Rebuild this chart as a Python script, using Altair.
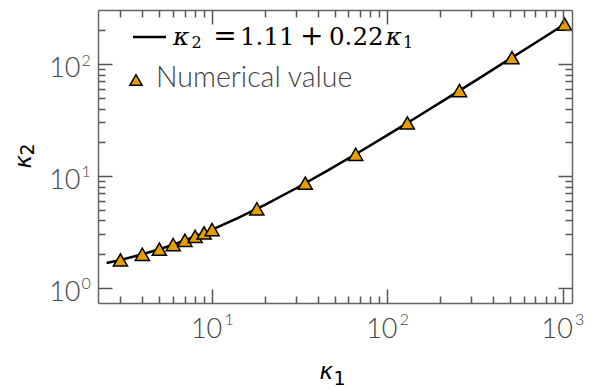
import altair as alt
import pandas as pd

# ---------------- data ----------------
k1_values = [3, 4, 5, 6, 7, 8, 9, 10, 18, 34, 66, 130, 258, 514, 1026]
k2_values = [1.77, 1.99, 2.21, 2.43, 2.65, 2.87, 3.09, 3.31, 5.07, 8.59,
             15.6, 29.7, 57.9, 114, 227]

# fitted relation shown in the legend: k2 = 1.11 + 0.22 k1
fit_intercept = 1.11
fit_slope = 0.22
fit_k1 = [2.5, 3, 4, 5, 6, 8, 10, 14, 20, 30, 45, 70, 100, 150, 220, 330,
          500, 700, 1026]

x_major = [10, 100, 1000]
x_minor = [3, 4, 5, 6, 7, 8, 9, 20, 30, 40, 50, 60, 70, 80, 90,
           200, 300, 400, 500, 600, 700, 800, 900]
y_major = [1, 10, 100]
y_minor = [2, 3, 4, 5, 6, 7, 8, 9, 20, 30, 40, 50, 60, 70, 80, 90, 200]

# legend formula pieces: kappa_2 = 1.11 + 0.22 kappa_1
formula_parts = ["κ", "2", "=", "1.11", "+", "0.22", "κ", "1"]
points_label = "Numerical value"
title_symbol = "κ"
x_title_sub = "1"
y_title_sub = "2"

# ---------------- styling ----------------
W, H = 474, 293
AXC = "#666666"
TICKC = "#555555"
LABC = "#444444"
ORANGE = "#E69F00"
LFONT = "Lato"
TFONT = "DejaVu Sans"
MFONT = "DejaVu Serif"

pts = pd.DataFrame({"k1": k1_values, "k2": k2_values})
fit = pd.DataFrame({"k1": fit_k1,
                    "k2": [fit_intercept + fit_slope * v for v in fit_k1]})

xs = alt.Scale(type="log", domain=[2.234, 1131], nice=False)
ys = alt.Scale(type="log", domain=[0.73, 304], nice=False)

common = dict(grid=False, zindex=1, labelFlush=False, labelOverlap=False)
exp_expr = "'' + round(log(datum.value) / LN10)"


def tick_axis(orient, offset, values, size, domain=False):
    return alt.Axis(orient=orient, offset=offset, values=values, labels=False,
                    ticks=True, tickSize=size, tickColor=TICKC, tickWidth=1.5,
                    domain=domain, domainColor=AXC, domainWidth=1.5,
                    title=None, **common)


# label axes (base "10" and exponent), titles split as symbol + subscript
x_lab = alt.Axis(orient="bottom", values=x_major, labelExpr="'10'",
                 ticks=False, tickSize=0, domain=True, domainColor=AXC,
                 domainWidth=1.5, labelFont=LFONT, labelFontWeight=300,
                 labelFontSize=27, labelColor=LABC, labelBaseline="alphabetic",
                 labelPadding=34, labelOffset=-6, labelAlign="center",
                 title=title_symbol, titleFont=TFONT, titleFontSize=23,
                 titleFontStyle="italic", titleFontWeight="normal",
                 titleColor="black", titleX=221, titleY=75, titleAlign="left",
                 titleBaseline="alphabetic", **common)
x_exp = alt.Axis(orient="bottom", values=x_major, labelExpr=exp_expr,
                 ticks=False, tickSize=0, domain=False, labelFont=LFONT,
                 labelFontWeight=300, labelFontSize=16, labelColor=LABC,
                 labelBaseline="alphabetic", labelPadding=21, labelOffset=16.5,
                 labelAlign="center",
                 title=x_title_sub, titleFont=TFONT, titleFontSize=19,
                 titleFontWeight="normal", titleColor="black",
                 titleX=235, titleY=81, titleAlign="left",
                 titleBaseline="alphabetic", **common)
y_lab = alt.Axis(orient="left", values=y_major, labelExpr="'10'",
                 ticks=False, tickSize=0, domain=True, domainColor=AXC,
                 domainWidth=1.5, labelFont=LFONT, labelFontWeight=300,
                 labelFontSize=27, labelColor=LABC, labelBaseline="alphabetic",
                 labelPadding=18, labelOffset=12.5, labelAlign="right",
                 title=title_symbol, titleFont=TFONT, titleFontSize=23,
                 titleFontStyle="italic", titleFontWeight="normal",
                 titleColor="black", titleAngle=270, titleX=-68, titleY=158,
                 titleAlign="left", titleBaseline="alphabetic", **common)
y_exp = alt.Axis(orient="left", values=y_major, labelExpr=exp_expr,
                 ticks=False, tickSize=0, domain=False, labelFont=LFONT,
                 labelFontWeight=300, labelFontSize=16, labelColor=LABC,
                 labelBaseline="alphabetic", labelPadding=17, labelOffset=1,
                 labelAlign="left",
                 title=y_title_sub, titleFont=TFONT, titleFontSize=19,
                 titleFontWeight="normal", titleColor="black", titleAngle=270,
                 titleX=-64.5, titleY=145, titleAlign="left",
                 titleBaseline="alphabetic", **common)

# layer 1: fitted line
line = alt.Chart(fit).mark_line(color="black", strokeWidth=2.5).encode(
    x=alt.X("k1:Q", scale=xs, axis=x_lab),
    y=alt.Y("k2:Q", scale=ys, axis=y_lab),
)

# layer 2: numerical values
points = alt.Chart(pts).mark_point(
    shape="triangle-up", filled=True, fill=ORANGE, stroke="black",
    strokeWidth=1.5, size=200, opacity=1,
).encode(
    x=alt.X("k1:Q", scale=xs, axis=x_exp),
    y=alt.Y("k2:Q", scale=ys, axis=y_exp),
)


def carrier(xax, yax):
    return alt.Chart(pts).mark_point(opacity=0).encode(
        x=alt.X("k1:Q", scale=xs, axis=xax),
        y=alt.Y("k2:Q", scale=ys, axis=yax),
    )


# inward tick axes (bottom/left/top/right)
c1 = carrier(tick_axis("top", -H, x_major, 14),
             tick_axis("right", -W, y_major, 14))
c2 = carrier(tick_axis("top", -H, x_minor, 7),
             tick_axis("right", -W, y_minor, 7))
c3 = carrier(tick_axis("bottom", -H, x_major, 14, domain=True),
             tick_axis("left", -W, y_major, 14, domain=True))
c4 = carrier(tick_axis("bottom", -H, x_minor, 7),
             tick_axis("left", -W, y_minor, 7))


# legend
def legend_text(txt, x, y, size, font=MFONT, style="normal", align="left",
                weight="normal", color="black"):
    return alt.Chart(pd.DataFrame({"label": [txt]})).mark_text(
        font=font, fontSize=size, fontStyle=style, fontWeight=weight,
        align=align, baseline="alphabetic", color=color
    ).encode(x=alt.value(x), y=alt.value(y), text="label:N")


leg_line = alt.Chart(pd.DataFrame({"label": ["fit"]})).mark_rule(
    color="black", strokeWidth=2.5
).encode(x=alt.value(35), x2=alt.value(68), y=alt.value(27))

f = formula_parts
formula = [
    legend_text(f[0], 75, 34.5, 25, style="italic"),
    legend_text(f[1], 93.5, 38, 16),
    legend_text(f[2], 127, 34.5, 28, align="center"),
    legend_text(f[3], 142, 34.5, 24.5),
    legend_text(f[4], 213.7, 34.5, 28, align="center"),
    legend_text(f[5], 231, 34.5, 24.5),
    legend_text(f[6], 287.5, 34.5, 25, style="italic"),
    legend_text(f[7], 305, 38, 16),
]

leg_tri = alt.Chart(pd.DataFrame({"label": [points_label]})).mark_point(
    shape="triangle-up", filled=True, fill=ORANGE, stroke="black",
    strokeWidth=1.5, size=150, opacity=1
).encode(x=alt.value(38), y=alt.value(70))
leg_text2 = legend_text(points_label, 58, 77, 28.5, font=LFONT, weight=300,
                        color=LABC)

chart = alt.layer(
    line, points, c1, c2, c3, c4, leg_line, *formula, leg_tri, leg_text2
).resolve_axis(
    x="independent", y="independent"
).properties(
    width=W, height=H,
    autosize=alt.AutoSizeParams(type="none"),
    padding={"left": 98, "top": 10, "right": 24, "bottom": 87},
    background="white",
).configure_view(stroke=None)

chart.save("out.html", embed_options={"renderer": "svg", "actions": False})
